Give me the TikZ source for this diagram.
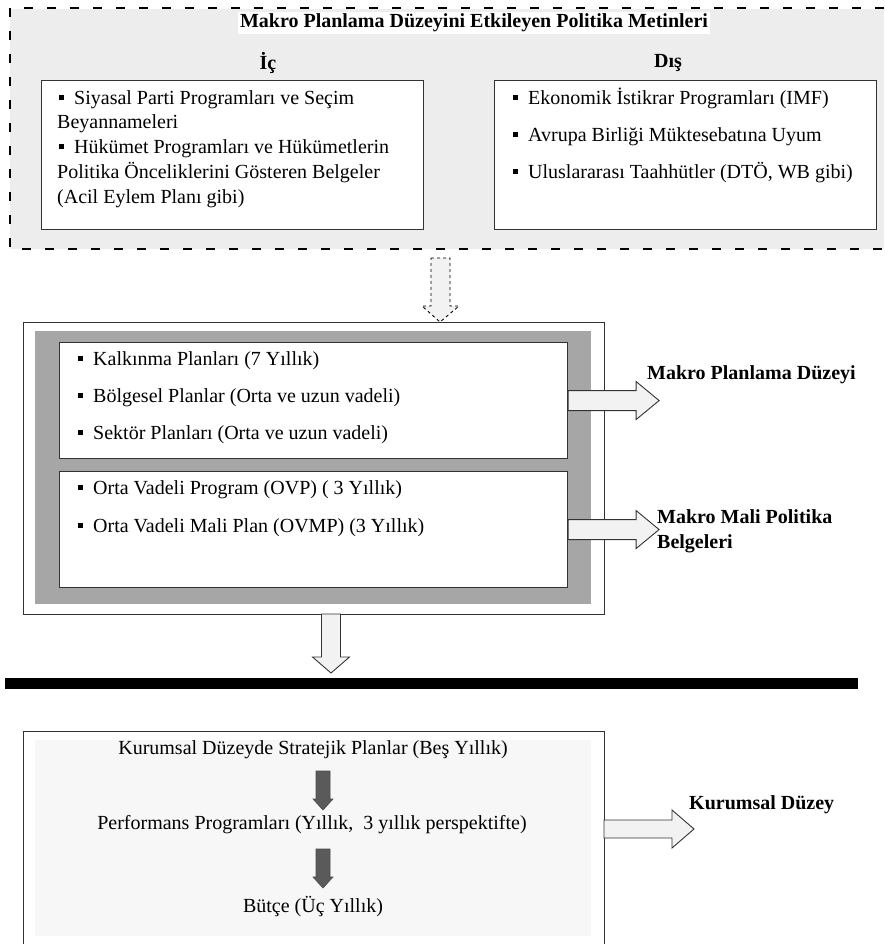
\documentclass[tikz,border=0pt]{standalone}
\usepackage{fontspec}
\setmainfont{Liberation Serif}
\usetikzlibrary{positioning}

\definecolor{topgray}{HTML}{EDEDED}
\definecolor{midgray}{HTML}{A6A6A6}
\definecolor{arrowfill}{HTML}{F2F2F2}
\definecolor{darkarrow}{HTML}{5A5A5A}
\definecolor{lowfill}{HTML}{F7F7F7}

\tikzset{
  box/.style={draw=black!80, line width=1.1pt, fill=white, inner sep=0pt, anchor=north west},
  item/.style={anchor=mid west, inner sep=0pt, font=\fontsize{20}{25}\selectfont},
  centeritem/.style={anchor=mid, inner sep=0pt, font=\fontsize{20}{25}\selectfont},
  heading/.style={anchor=mid west, inner sep=0pt, font=\bfseries\fontsize{20}{25}\selectfont},
  dashline/.style={line width=2.6pt, dash pattern=on 9pt off 14pt},
  blockarrow/.style={draw=black!80, line width=0.9pt, fill=arrowfill},
  smallarrow/.style={draw=black!70, line width=0.6pt, fill=darkarrow}
}
\newcommand{\blt}{\rule[0.22em]{5pt}{5pt}\hspace{10pt}}

\begin{document}
\begin{tikzpicture}[x=1pt, y=-1pt]

     \useasboundingbox (0,0) rectangle (884,944);

     % top dashed area
     \fill[topgray] (10,9) rectangle (884,249);
     \draw[dashline] (884,8) -- (10,8) -- (10,249) -- (884,249);

     \node (title) at (474,23) [fill=white, inner sep=2pt, font=\bfseries\fontsize{20}{25}\selectfont] {Makro Planlama Düzeyini Etkileyen Politika Metinleri};
     \node (ic) at (268,63) [font=\bfseries\fontsize{20}{25}\selectfont] {İç};
     \node (dis) at (668,63) [font=\bfseries\fontsize{20}{25}\selectfont] {Dış};

     \node (icbox) at (41,80) [box, minimum width=382, minimum height=149] {};
     \node (disbox) at (494,80) [box, minimum width=382, minimum height=149] {};

     \node (ic1) at (59,102) [item] {\blt Siyasal Parti Programları ve Seçim};
     \node (ic2) at (57,126) [item] {Beyannameleri};
     \node (ic3) at (59,151) [item] {\blt Hükümet Programları ve Hükümetlerin};
     \node (ic4) at (57,176) [item] {Politika Önceliklerini Gösteren Belgeler};
     \node (ic5) at (57,201) [item] {(Acil Eylem Planı gibi)};

     \node (dis1) at (513,102) [item] {\blt Ekonomik İstikrar Programları (IMF)};
     \node (dis2) at (513,139) [item] {\blt Avrupa Birliği Müktesebatına Uyum};
     \node (dis3) at (513,176) [item] {\blt Uluslararası Taahhütler (DTÖ, WB gibi)};

     % middle block
     \node (mid) at (23,322) [box, minimum width=581, minimum height=292] {};
     \fill[midgray] (35,331) rectangle (591,604);
     \node (plan) at (59,342) [box, minimum width=508, minimum height=116] {};
     \node (mali) at (59,471) [box, minimum width=508, minimum height=116] {};

     \node (plan1) at (78,363) [item] {\blt Kalkınma Planları (7 Yıllık)};
     \node (plan2) at (78,400) [item] {\blt Bölgesel Planlar (Orta ve uzun vadeli)};
     \node (plan3) at (78,437) [item] {\blt Sektör Planları (Orta ve uzun vadeli)};
     \node (mali1) at (78,492) [item] {\blt Orta Vadeli Program (OVP) ( 3 Yıllık)};
     \node (mali2) at (78,530) [item] {\blt Orta Vadeli Mali Plan (OVMP) (3 Yıllık)};

     \node (makro) at (647,377) [heading] {Makro Planlama Düzeyi};
     \node (malilbl) at (657,509) [anchor=north west, inner sep=0pt, align=left, font=\bfseries\fontsize{20}{25}\selectfont] {Makro Mali Politika\\Belgeleri};

     % dashed arrow from the top area
     \coordinate (topin) at (440,258);
     \draw[dashed, line width=0.9pt, fill=arrowfill] (topin) ++(-9,0) -- ++(19,0) -- ++(0,48) -- ++(9,0)
          -- (topin |- mid.north) -- ++(-18,-16) -- ++(9,0) -- cycle;

     % arrows to the right
     \draw[blockarrow] (plan.east) ++(0,-10) -- ++(68,0) -- ++(0,-9) -- ++(23,19) -- ++(-23,19) -- ++(0,-9) -- ++(-68,0) -- cycle;
     \draw[blockarrow] (mali.east) ++(0,-10) -- ++(68,0) -- ++(0,-9) -- ++(23,19) -- ++(-23,19) -- ++(0,-9) -- ++(-68,0) -- cycle;

     % down to the line
     \coordinate (midout) at (331,614);
     \coordinate (lineL) at (5,683.5);
     \coordinate (lineR) at (858,683.5);
     \draw[blockarrow] (midout) ++(-9.5,0) -- ++(19,0) -- ++(0,43) -- ++(9,0) -- ++(-18.5,16) -- ++(-18.5,-16) -- ++(9,0) -- cycle;
     \draw[line width=11pt] (lineL) -- (lineR);

     % bottom block
     \node (kurum) at (23,731) [box, minimum width=581, minimum height=222] {};
     \fill[lowfill] (35,740) rectangle (591,936);

     \node (strat) at (313,752) [centeritem] {Kurumsal Düzeyde Stratejik Planlar (Beş Yıllık)};
     \node (perf) at (312,827) [centeritem] {Performans Programları (Yıllık,\ \ 3 yıllık perspektifte)};
     \node (butce) at (313,910) [centeritem] {Bütçe (Üç Yıllık)};

     \coordinate (s1) at (323,771);
     \coordinate (s2) at (323,849);
     \draw[smallarrow] (s1) ++(-7,0) -- ++(14,0) -- ++(0,28) -- ++(3,0) -- ++(-10,11) -- ++(-10,-11) -- ++(3,0) -- cycle;
     \draw[smallarrow] (s2) ++(-7,0) -- ++(14,0) -- ++(0,28) -- ++(3,0) -- ++(-10,11) -- ++(-10,-11) -- ++(3,0) -- cycle;

     \coordinate (kout) at (604,829);
     \draw[blockarrow] (kout) ++(0,-9) -- ++(68,0) -- ++(0,-10) -- ++(22,19) -- ++(-22,19) -- ++(0,-10) -- ++(-68,0) -- cycle;
     \node (kdz) at (689,807) [heading] {Kurumsal Düzey};

\end{tikzpicture}
\end{document}
